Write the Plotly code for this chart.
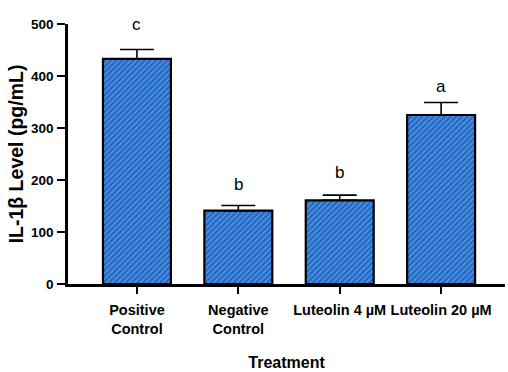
import plotly.graph_objects as go

# IL-1β concentration per treatment group
categories = ["Positive<br>Control", "Negative<br>Control", "Luteolin 4 µM", "Luteolin 20 µM"]
means = [433, 141, 161, 325]
errors = [18, 10, 10, 24]
letters = ["c", "b", "b", "a"]
y_ticks = [0, 100, 200, 300, 400, 500]

FONT = "Liberation Sans, Arial, sans-serif"

fig = go.Figure()
fig.add_trace(go.Bar(
    x=categories,
    y=means,
    width=0.67,
    marker=dict(
        color="#3d8ff2",
        line=dict(color="black", width=2.2),
        pattern=dict(shape="/", fgcolor="#1b2c52", bgcolor="#3d8ff2",
                     size=4, solidity=0.45),
    ),
    error_y=dict(type="data", array=errors, arrayminus=[0] * len(errors),
                 symmetric=False, color="black", thickness=1.6, width=17),
    showlegend=False,
))

# significance letters above each error bar
yshifts = [13, 9, 11, 5]
for cat, m, e, lab, ys in zip(categories, means, errors, letters, yshifts):
    fig.add_annotation(x=cat, y=m + e, text=lab, showarrow=False,
                       yanchor="bottom", yshift=ys,
                       font=dict(family=FONT, size=17, color="black"))

fig.update_layout(
    width=508, height=372,
    margin=dict(l=68, r=3, t=24, b=88),
    plot_bgcolor="white", paper_bgcolor="white",
    font=dict(family=FONT, color="black"),
    bargap=0.33,
)
fig.update_xaxes(
    type="category", range=[-0.68, 3.63],
    showline=True, linecolor="black", linewidth=2.5,
    ticks="outside", ticklen=7, tickwidth=2, tickcolor="black",
    ticklabelstandoff=4, tickangle=0,
    tickfont=dict(family=FONT, size=14.5, color="black", weight="bold"),
    title=dict(text="Treatment", font=dict(family=FONT, size=16, weight="bold"), standoff=21),
    showgrid=False, zeroline=False, automargin=False,
)
fig.update_yaxes(
    range=[0, 500], tickvals=y_ticks,
    showline=True, linecolor="black", linewidth=2.5,
    ticks="outside", ticklen=8, tickwidth=2, tickcolor="black",
    ticklabelstandoff=1,
    tickfont=dict(family=FONT, size=13.5, color="black", weight="bold"),
    title=dict(text="IL-1β Level (pg/mL)", font=dict(family=FONT, size=19.5, weight="bold"), standoff=3),
    showgrid=False, zeroline=False, automargin=False,
)

fig.write_html("out.html")
